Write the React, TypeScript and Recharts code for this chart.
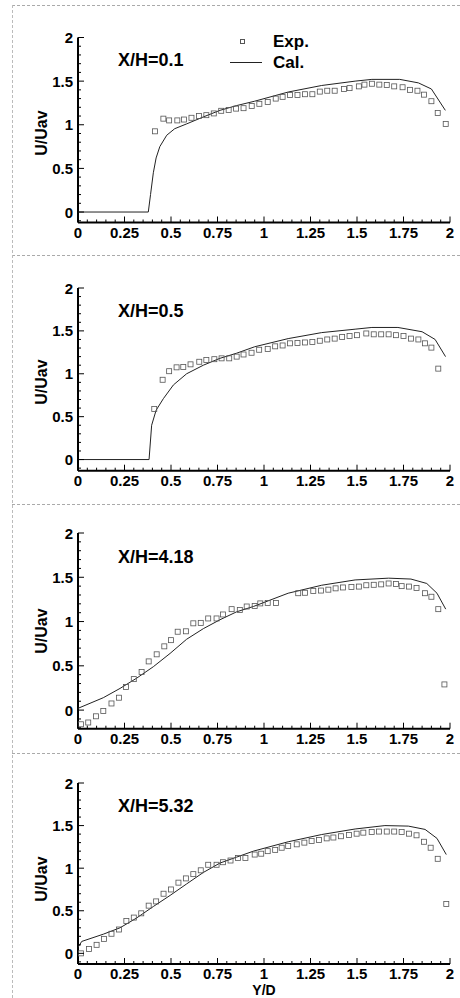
import { ScatterChart, Scatter, XAxis, YAxis } from 'recharts'

// X/H = 0.1
const cal1X = [0, 0.378, 0.39, 0.405, 0.42, 0.44, 0.477, 0.52, 0.584, 0.674, 0.763, 0.853, 0.95, 1.13, 1.31, 1.49, 1.58, 1.73, 1.83, 1.9, 1.975]
const cal1Y = [0, 0, 0.2, 0.45, 0.62, 0.75, 0.88, 0.955, 1.01, 1.09, 1.165, 1.22, 1.27, 1.375, 1.45, 1.5, 1.52, 1.52, 1.48, 1.41, 1.165]
const exp1X = [0.414, 0.459, 0.49, 0.534, 0.57, 0.61, 0.65, 0.69, 0.73, 0.77, 0.81, 0.85, 0.89, 0.934, 0.975, 1.02, 1.063, 1.1, 1.14, 1.18, 1.22, 1.26, 1.3, 1.34, 1.38, 1.43, 1.46, 1.51, 1.54, 1.58, 1.62, 1.66, 1.7, 1.745, 1.785, 1.825, 1.86, 1.9, 1.934, 1.977]
const exp1Y = [0.925, 1.07, 1.05, 1.05, 1.06, 1.08, 1.1, 1.11, 1.13, 1.16, 1.17, 1.185, 1.19, 1.215, 1.24, 1.26, 1.3, 1.32, 1.34, 1.34, 1.35, 1.35, 1.38, 1.39, 1.39, 1.41, 1.42, 1.44, 1.46, 1.47, 1.46, 1.455, 1.44, 1.43, 1.4, 1.39, 1.345, 1.27, 1.135, 1.01]

// X/H = 0.5
const cal2X = [0, 0.382, 0.396, 0.42, 0.459, 0.513, 0.584, 0.674, 0.763, 0.853, 0.95, 1.13, 1.31, 1.49, 1.58, 1.72, 1.85, 1.92, 1.976]
const cal2Y = [0, 0, 0.4, 0.575, 0.71, 0.87, 1.0, 1.1, 1.18, 1.24, 1.315, 1.41, 1.48, 1.52, 1.54, 1.54, 1.49, 1.4, 1.2]
const exp2X = [0.41, 0.455, 0.49, 0.53, 0.566, 0.605, 0.652, 0.69, 0.733, 0.772, 0.813, 0.853, 0.89, 0.933, 0.974, 1.02, 1.06, 1.1, 1.14, 1.18, 1.22, 1.26, 1.3, 1.34, 1.38, 1.42, 1.46, 1.5, 1.55, 1.59, 1.63, 1.67, 1.71, 1.75, 1.79, 1.83, 1.866, 1.9, 1.937]
const exp2Y = [0.59, 0.93, 1.03, 1.075, 1.08, 1.11, 1.14, 1.16, 1.17, 1.18, 1.18, 1.2, 1.225, 1.245, 1.28, 1.29, 1.32, 1.33, 1.355, 1.36, 1.365, 1.37, 1.385, 1.4, 1.41, 1.43, 1.44, 1.45, 1.47, 1.46, 1.46, 1.46, 1.45, 1.44, 1.41, 1.4, 1.355, 1.305, 1.06]

// X/H = 4.18
const cal3X = [0, 0.136, 0.226, 0.315, 0.405, 0.495, 0.584, 0.674, 0.763, 0.853, 0.943, 1.13, 1.31, 1.49, 1.67, 1.79, 1.875, 1.93, 1.977]
const cal3Y = [0.02, 0.14, 0.245, 0.36, 0.49, 0.64, 0.8, 0.92, 1.02, 1.11, 1.17, 1.32, 1.41, 1.47, 1.49, 1.48, 1.43, 1.32, 1.14]
const exp3X = [0.016, 0.055, 0.097, 0.136, 0.18, 0.22, 0.258, 0.3, 0.342, 0.38, 0.423, 0.464, 0.5, 0.536, 0.58, 0.62, 0.66, 0.7, 0.745, 0.78, 0.826, 0.87, 0.907, 0.95, 0.98, 1.02, 1.065, 1.184, 1.22, 1.265, 1.306, 1.346, 1.385, 1.425, 1.47, 1.51, 1.55, 1.59, 1.63, 1.67, 1.71, 1.74, 1.78, 1.82, 1.866, 1.9, 1.937, 1.97]
const exp3Y = [-0.16, -0.14, -0.07, -0.01, 0.075, 0.14, 0.26, 0.35, 0.43, 0.55, 0.63, 0.72, 0.79, 0.885, 0.89, 0.98, 0.985, 1.035, 1.035, 1.08, 1.14, 1.13, 1.17, 1.175, 1.205, 1.21, 1.21, 1.32, 1.325, 1.345, 1.35, 1.36, 1.375, 1.385, 1.39, 1.395, 1.41, 1.415, 1.42, 1.43, 1.425, 1.4, 1.395, 1.38, 1.32, 1.28, 1.14, 0.29]

// X/H = 5.32
const cal4X = [0, 0.02, 0.136, 0.226, 0.315, 0.405, 0.495, 0.584, 0.674, 0.763, 0.853, 0.943, 1.13, 1.31, 1.49, 1.65, 1.776, 1.866, 1.93, 1.98]
const cal4Y = [0.07, 0.14, 0.225, 0.3, 0.415, 0.55, 0.68, 0.815, 0.95, 1.06, 1.13, 1.2, 1.31, 1.395, 1.46, 1.5, 1.494, 1.455, 1.35, 1.16]
const exp4X = [0.016, 0.059, 0.1, 0.14, 0.18, 0.22, 0.26, 0.3, 0.34, 0.38, 0.42, 0.46, 0.5, 0.54, 0.58, 0.62, 0.66, 0.7, 0.745, 0.78, 0.82, 0.86, 0.9, 0.95, 0.985, 1.02, 1.06, 1.095, 1.13, 1.176, 1.217, 1.256, 1.296, 1.337, 1.373, 1.414, 1.457, 1.498, 1.534, 1.579, 1.618, 1.66, 1.7, 1.74, 1.78, 1.82, 1.86, 1.896, 1.934, 1.98]
const exp4Y = [0, 0.05, 0.1, 0.17, 0.23, 0.28, 0.38, 0.42, 0.47, 0.56, 0.61, 0.7, 0.75, 0.83, 0.88, 0.93, 0.975, 1.04, 1.04, 1.07, 1.09, 1.12, 1.12, 1.16, 1.17, 1.2, 1.215, 1.24, 1.26, 1.28, 1.3, 1.32, 1.33, 1.35, 1.36, 1.375, 1.39, 1.405, 1.417, 1.425, 1.43, 1.43, 1.43, 1.425, 1.405, 1.386, 1.31, 1.24, 1.11, 0.58]

// axis ticks
const xMajor = [0, 0.25, 0.5, 0.75, 1, 1.25, 1.5, 1.75, 2]
const xMinor = [0.05, 0.1, 0.15, 0.2, 0.3, 0.35, 0.4, 0.45, 0.55, 0.6, 0.65, 0.7, 0.8, 0.85, 0.9, 0.95, 1.05, 1.1, 1.15, 1.2, 1.3, 1.35, 1.4, 1.45, 1.55, 1.6, 1.65, 1.7, 1.8, 1.85, 1.9, 1.95]
const yMajor = [0, 0.5, 1, 1.5, 2]
const yMinor = [-0.2, -0.1, 0.1, 0.2, 0.3, 0.4, 0.6, 0.7, 0.8, 0.9, 1.1, 1.2, 1.3, 1.4, 1.6, 1.7, 1.8, 1.9]

const FONT = '"Liberation Sans", Arial, sans-serif'

const toPoints = (xs: number[], ys: number[]) => xs.map((x, i) => ({ x, y: ys[i] }))

const panels = [
  { title: 'X/H=0.1', cal: toPoints(cal1X, cal1Y), exp: toPoints(exp1X, exp1Y), top: 0, h: 250, plotTop: 37.5, plotBottom: 222.5, yMin: -0.12, titleBase: 66, labelY: 133 },
  { title: 'X/H=0.5', cal: toPoints(cal2X, cal2Y), exp: toPoints(exp2X, exp2Y), top: 250, h: 250, plotTop: 38, plotBottom: 220.7, yMin: -0.13, titleBase: 66.7, labelY: 131.5 },
  { title: 'X/H=4.18', cal: toPoints(cal3X, cal3Y), exp: toPoints(exp3X, exp3Y), top: 500, h: 250, plotTop: 33, plotBottom: 228.7, yMin: -0.21, titleBase: 63.3, labelY: 131 },
  { title: 'X/H=5.32', cal: toPoints(cal4X, cal4Y), exp: toPoints(exp4X, exp4Y), top: 750, h: 248, plotTop: 33, plotBottom: 214, yMin: -0.125, titleBase: 61.7, labelY: 129 },
]

const XTick = (props: any) => {
  const { x, y, payload } = props
  const major = xMajor.includes(payload.value)
  return (
    <g>
      <line x1={x} x2={x} y1={y} y2={y - (major ? 6 : 3)} stroke="#000" strokeWidth={1} />
      {major && (
        <text x={x} y={y + 15} textAnchor="middle" fontFamily={FONT} fontWeight="bold" fontSize={15} fill="#000">
          {String(payload.value)}
        </text>
      )}
    </g>
  )
}

const YTick = (props: any) => {
  const { x, y, payload } = props
  const major = yMajor.includes(payload.value)
  return (
    <g>
      <line x1={x} x2={x + (major ? 6 : 3)} y1={y} y2={y} stroke="#000" strokeWidth={1} />
      {major && (
        <text x={x - 5} y={y + 5.5} textAnchor="end" fontFamily={FONT} fontWeight="bold" fontSize={15} fill="#000">
          {String(payload.value)}
        </text>
      )}
    </g>
  )
}

const square = (props: any) => (
  <rect x={props.cx - 2.5} y={props.cy - 2.5} width={5} height={5} fill="none" stroke="#555" strokeWidth={0.8} />
)

const nothing = () => <g />

const label = (extra: React.CSSProperties): React.CSSProperties => ({
  position: 'absolute',
  fontFamily: FONT,
  fontWeight: 'bold',
  color: '#000',
  whiteSpace: 'nowrap',
  lineHeight: 1,
  ...extra,
})

function Panel({ p, last }: { p: (typeof panels)[number]; last: boolean }) {
  const xAxisH = 20
  const bottom = p.h - xAxisH - p.plotBottom
  return (
    <div style={{ position: 'absolute', left: 0, top: p.top, width: 460, height: p.h }}>
      <ScatterChart width={460} height={p.h} margin={{ top: p.plotTop, right: 10, bottom, left: 0 }}>
        <XAxis
          type="number"
          dataKey="x"
          domain={[0, 2]}
          ticks={[...xMajor, ...xMinor]}
          interval={0}
          tickSize={0}
          tickMargin={0}
          tickLine={false}
          tick={XTick}
          height={xAxisH}
          axisLine={{ stroke: '#000', strokeWidth: 2 }}
          allowDataOverflow
        />
        <YAxis
          type="number"
          dataKey="y"
          domain={[p.yMin, 2]}
          ticks={[...yMajor, ...yMinor.filter(t => t >= p.yMin)]}
          interval={0}
          tickSize={0}
          tickMargin={0}
          tickLine={false}
          tick={YTick}
          width={78}
          axisLine={{ stroke: '#000', strokeWidth: 2 }}
          allowDataOverflow
        />
        <Scatter
          data={p.cal}
          line={{ stroke: '#222', strokeWidth: 1 }}
          shape={nothing}
          isAnimationActive={false}
        />
        <Scatter data={p.exp} shape={square} isAnimationActive={false} />
      </ScatterChart>
      <div style={label({ left: 118, top: p.titleBase - 15.2, fontSize: 18 })}>{p.title}</div>
      <div
        style={label({
          left: 42,
          top: p.labelY,
          fontSize: 16,
          transform: 'translate(-50%, -50%) rotate(-90deg)',
        })}
      >
        U/Uav
      </div>
      {last && (
        <div style={label({ left: 264, top: 245 - 11.9, fontSize: 14, transform: 'translateX(-50%)' })}>Y/D</div>
      )}
    </div>
  )
}

export default function App() {
  return (
    <div style={{ position: 'absolute', left: 0, top: 0, width: 460, height: 998, background: '#fff', overflow: 'hidden' }}>
      {/* scan borders */}
      {[5, 254.5, 504, 753].map(y => (
        <div key={y} style={{ position: 'absolute', left: 12, top: y, width: 448, borderTop: '1px dashed #aaa' }} />
      ))}
      <div style={{ position: 'absolute', left: 12, top: 5, height: 993, borderLeft: '1px dashed #bbb' }} />

      {panels.map((p, i) => (
        <Panel key={p.title} p={p} last={i === panels.length - 1} />
      ))}

      {/* legend (first panel) */}
      <div
        style={{ position: 'absolute', left: 239.5, top: 38.5, width: 5, height: 5, border: '0.8px solid #555', boxSizing: 'border-box' }}
      />
      <div style={label({ left: 273, top: 47.5 - 14.4, fontSize: 17 })}>Exp.</div>
      <div style={{ position: 'absolute', left: 230, top: 62, width: 32, borderTop: '1px solid #222' }} />
      <div style={label({ left: 273, top: 68 - 14.4, fontSize: 17 })}>Cal.</div>
    </div>
  )
}
